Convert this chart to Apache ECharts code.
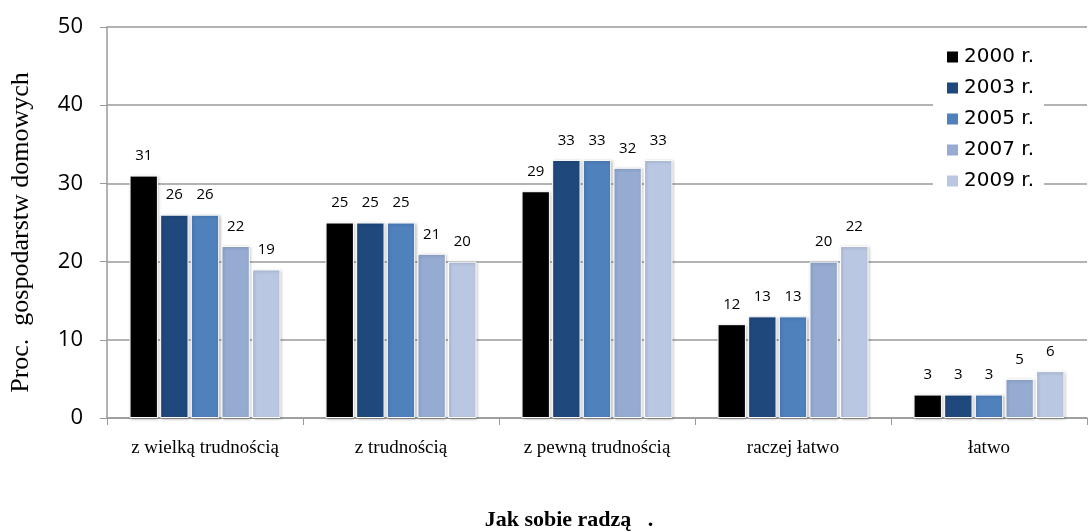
<!DOCTYPE html>
<html>
<head>
<meta charset="utf-8">
<script src="https://cdn.jsdelivr.net/npm/echarts@6/dist/echarts.min.js"></script>
<style>
  html, body { margin: 0; padding: 0; background: #fff; }
  #chart { width: 1089px; height: 532px; }
</style>
</head>
<body>
<div id="chart"></div>
<script>
// kategorie i dane
var categories = ['z wielką trudnością', 'z trudnością', 'z pewną trudnością', 'raczej łatwo', 'łatwo']
var years = ['2000 r.', '2003 r.', '2005 r.', '2007 r.', '2009 r.']
var v2000 = [31, 25, 29, 12, 3]
var v2003 = [26, 25, 33, 13, 3]
var v2005 = [26, 25, 33, 13, 3]
var v2007 = [22, 21, 32, 20, 5]
var v2009 = [19, 20, 33, 22, 6]
var colors = ['#000000', '#1f497d', '#4f81bd', '#95abd2', '#b9c7e2']

var values = [v2000, v2003, v2005, v2007, v2009]
var series = values.map(function (arr, i) {
  return {
    name: years[i],
    type: 'bar',
    data: arr,
    barGap: '8%',
    barCategoryGap: '23%',
    itemStyle: {
      color: colors[i],
      borderColor: '#ffffff',
      borderWidth: 1,
      shadowColor: 'rgba(0,0,0,0.25)',
      shadowBlur: 3,
      shadowOffsetX: 1,
      shadowOffsetY: 1
    },
    label: {
      show: true,
      position: 'top',
      distance: 12,
      color: '#000',
      fontFamily: 'Open Sans',
      fontSize: 15
    }
  }
})

var chart = echarts.init(document.getElementById('chart'))
chart.setOption({
  animation: false,
  color: colors,
  grid: { left: 107, right: 2, top: 27, bottom: 114, outerBoundsMode: 'none', containLabel: false },
  legend: {
    orient: 'vertical',
    left: 933,
    top: 43,
    data: years,
    icon: 'rect',
    itemWidth: 13,
    itemHeight: 13,
    itemGap: 11,
    backgroundColor: '#ffffff',
    padding: [4, 10, 4, 12],
    textStyle: { fontFamily: 'DejaVu Sans', fontSize: 20, color: '#000' }
  },
  xAxis: {
    type: 'category',
    data: categories,
    name: 'Jak sobie radzą   .',
    nameLocation: 'middle',
    nameGap: 91,
    nameTextStyle: { fontFamily: 'Liberation Serif', fontWeight: 'bold', fontSize: 22, color: '#000', padding: [0, 56, 0, 0] },
    axisLine: { lineStyle: { color: '#9a9a9a', width: 1.5 } },
    axisTick: { show: true, length: 7, lineStyle: { color: '#9a9a9a' } },
    axisLabel: { fontFamily: 'Liberation Serif', fontSize: 19, color: '#000', margin: 21 }
  },
  yAxis: {
    type: 'value',
    min: 0,
    max: 50,
    interval: 10,
    name: 'Proc.  gospodarstw domowych',
    nameLocation: 'middle',
    nameGap: 73,
    nameTextStyle: { fontFamily: 'Liberation Serif', fontSize: 26, color: '#000', padding: [0, 20, 0, 0] },
    axisLine: { show: true, lineStyle: { color: '#9a9a9a', width: 1.5 } },
    axisTick: { show: true, length: 7, lineStyle: { color: '#9a9a9a' } },
    axisLabel: { fontFamily: 'Open Sans', fontSize: 22, color: '#000', margin: 24 },
    splitLine: { lineStyle: { color: '#9a9a9a', width: 1.5 } }
  },
  series: series
})
</script>
</body>
</html>
